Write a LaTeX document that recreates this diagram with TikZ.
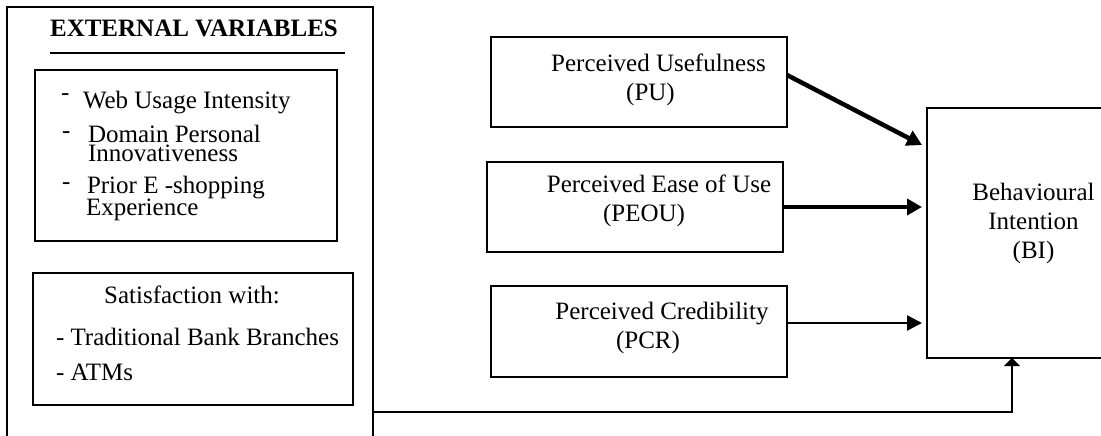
\documentclass[tikz,border=0pt]{standalone}
\usepackage{fontspec}
\setmainfont{Liberation Serif}
\usetikzlibrary{arrows.meta,calc}
\begin{document}
\begin{tikzpicture}[x=1pt,y=-1pt,
  box/.style={draw,line width=1.3pt,inner sep=0pt,outer sep=0pt},
  txt/.style={inner sep=0pt,outer sep=0pt,anchor=base,font=\fontsize{25}{28}\selectfont},
  txtl/.style={txt,anchor=base west},
  bigarr/.style={line width=4.5pt,-{Triangle[length=15pt,width=16pt]}},
  medarr/.style={line width=4pt,-{Triangle[length=15pt,width=16pt]}},
  thinarr/.style={line width=2.3pt,-{Triangle[length=15pt,width=15pt]}},
  basearr/.style={line width=2pt,-{Triangle[length=8pt,width=16pt]}}]
\useasboundingbox (0,0) rectangle (1101,436);
% external variables frame
\node[box,minimum width=366pt,minimum height=460pt] (ext) at (190,237) {};
\node[txt,font=\fontsize{25}{28}\selectfont\bfseries] (title) at (194,37) {EXTERNAL VARIABLES};
\draw[line width=1.5pt] (50,53) -- (345,53);
% inner box 1
\node[box,minimum width=302pt,minimum height=171pt] (box1) at (186,155.5) {};
\node[txtl] (d1) at (61,100) {-};
\node[txtl] (l1) at (83,109) {Web Usage Intensity};
\node[txtl] (d2) at (62,138) {-};
\node[txtl] (l2) at (88,142) {\begin{tabular}[t]{@{}l@{}}Domain Personal\\[-8pt]Innovativeness\end{tabular}};
\node[txtl] (d3) at (62,189) {-};
\node[txtl] (l4) at (86,193) {\begin{tabular}[t]{@{}l@{}}\hspace{1pt}Prior E -shopping\\[-6pt]Experience\end{tabular}};
% inner box 2
\node[box,minimum width=320pt,minimum height=132pt] (box2) at (193,339) {};
\node[txt] (s0) at (192,303) {Satisfaction with:};
\node[txtl] (s1) at (56,345) {- Traditional Bank Branches};
\node[txtl] (s2) at (56,380) {- ATMs};
% constructs
\node[box,minimum width=296pt,minimum height=90pt] (pu) at (639,82) {};
\node[txt] (pu1) at (658.5,72) {Perceived Usefulness};
\node[txt] (pu2) at (650.5,100) {(PU)};
\node[box,minimum width=296pt,minimum height=90pt] (peou) at (635,207) {};
\node[txt] (peou1) at (659,192) {Perceived Ease of Use};
\node[txt] (peou2) at (644,221) {(PEOU)};
\node[box,minimum width=296pt,minimum height=91pt] (pcr) at (639,331.5) {};
\node[txt] (pcr1) at (662,319) {Perceived Credibility};
\node[txt] (pcr2) at (648,348) {(PCR)};
% behavioural intention
\node[box,minimum width=193pt,minimum height=250pt] (bi) at (1023.5,233) {};
\node[txt] (bi1) at (1033.5,200) {Behavioural};
\node[txt] (bi2) at (1033.5,229) {Intention};
\node[txt] (bi3) at (1033.5,258) {(BI)};
% connectors
\coordinate (puout) at ($(pu.east)+(0,-7)$);
\coordinate (puin) at ($(bi.north west)+(-5,37)$);
\draw[bigarr] (puout) -- (puin);
\draw[medarr,shorten >=5pt] (peou.east) -- (peou.east -| bi.west);
\coordinate (pcrout) at ($(pcr.east)+(0,-8.5)$);
\draw[thinarr,shorten >=5pt] (pcrout) -- (pcrout -| bi.west);
\coordinate (extout) at ($(ext.north east)+(0,405)$);
\coordinate (biin) at ($(bi.south west)+(85,0)$);
\draw[basearr] (extout) -| (biin);
\end{tikzpicture}
\end{document}
